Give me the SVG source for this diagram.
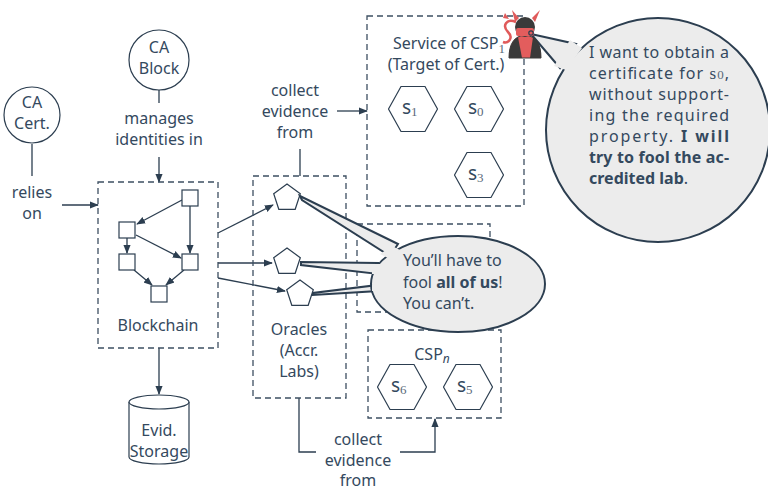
<svg xmlns="http://www.w3.org/2000/svg" width="768" height="492" viewBox="0 0 768 492">
  <defs>
    <marker id="arr" viewBox="0 0 10 10" refX="9" refY="5" markerWidth="9" markerHeight="9" markerUnits="userSpaceOnUse" orient="auto">
      <path d="M0,1 L10,5 L0,9 Z" fill="#2c3e50"/>
    </marker>
    <polygon id="hex" points="-24.5,0 -12,-22.5 12,-22.5 24.5,0 12,22.5 -12,22.5"/>
    <polygon id="pent" points="0,-14 13.3,-4.3 8.2,11.3 -8.2,11.3 -13.3,-4.3"/>
    <rect id="blk" width="16" height="16"/>
  </defs>
  <style>
    text { font-family: "Noto Sans", "Open Sans", sans-serif; font-size: 16px; fill: #34495e; }
    .c { text-anchor: middle; }
    .b { font-weight: bold; }
    .s { font-size: 19px; }
    .m { font-family: "Liberation Serif", "DejaVu Serif", serif; font-size: 13px; fill: #5a6a7a; }
    .node { fill: #fff; stroke: #2c3e50; stroke-width: 1.2; }
    .dash { fill: none; stroke: #3d4f61; stroke-width: 1.3; stroke-dasharray: 6 4; }
    .line { fill: none; stroke: #2c3e50; stroke-width: 1.3; }
    .arr { fill: none; stroke: #2c3e50; stroke-width: 1.3; marker-end: url(#arr); }
    .shape { fill: #fff; stroke: #2c3e50; stroke-width: 1.2; }
    .bub { fill: #ececec; stroke: #2c3e50; stroke-width: 2; }
    .bubf { fill: #ececec; stroke: none; }
  </style>

  <!-- connectors -->
  <g id="connectors">
    <line class="line" x1="32" y1="144" x2="32" y2="176"/>
    <line class="arr" x1="62" y1="205" x2="98" y2="205"/>
    <line class="line" x1="159" y1="90" x2="159" y2="103"/>
    <line class="arr" x1="159" y1="157" x2="159" y2="182"/>
    <line class="arr" x1="159" y1="348" x2="159" y2="394"/>
    <line class="line" x1="300" y1="176" x2="300" y2="149"/>
    <line class="arr" x1="337" y1="111" x2="367" y2="111"/>
    <line class="arr" x1="218" y1="233" x2="273" y2="205"/>
    <line class="arr" x1="218" y1="263" x2="272" y2="263"/>
    <line class="arr" x1="218" y1="278" x2="285" y2="291"/>
    <polyline class="line" points="299,398 299,452 316,452"/>
    <polyline class="arr" points="400,452 435,452 435,419"/>
    <!-- blockchain internal edges -->
    <line class="arr" x1="182" y1="200" x2="137" y2="224"/>
    <line class="arr" x1="190" y1="206" x2="190" y2="253"/>
    <line class="arr" x1="127" y1="238" x2="127" y2="253"/>
    <line class="arr" x1="136" y1="235" x2="181" y2="258"/>
    <line class="arr" x1="134" y1="270" x2="152" y2="285"/>
    <line class="arr" x1="184" y1="270" x2="166" y2="285"/>
  </g>

  <!-- certification authorities -->
  <g id="ca-cert">
    <circle class="node" cx="32" cy="115" r="28"/>
    <text class="c" x="32" y="108">CA</text>
    <text class="c" x="32" y="129">Cert.</text>
  </g>
  <text class="c" x="32" y="198">relies</text>
  <text class="c" x="32" y="219">on</text>

  <g id="ca-block">
    <circle class="node" cx="159" cy="60" r="30"/>
    <text class="c" x="159" y="53">CA</text>
    <text class="c" x="159" y="74">Block</text>
  </g>
  <text class="c" x="159" y="124">manages</text>
  <text class="c" x="159" y="145">identities in</text>

  <!-- blockchain -->
  <g id="blockchain">
    <rect class="dash" x="98" y="182" width="120" height="166"/>
    <use href="#blk" class="shape" x="182" y="190"/>
    <use href="#blk" class="shape" x="119" y="222"/>
    <use href="#blk" class="shape" x="119" y="254"/>
    <use href="#blk" class="shape" x="182" y="254"/>
    <use href="#blk" class="shape" x="151" y="286"/>
    <text class="c" x="158" y="331">Blockchain</text>
  </g>

  <!-- evidence storage -->
  <g id="storage">
    <path class="shape" d="M129,402 L129,457 A30,7 0 0 0 189,457 L189,402"/>
    <ellipse class="shape" cx="159" cy="402" rx="30" ry="7"/>
    <text class="c" x="159" y="436">Evid.</text>
    <text class="c" x="159" y="457">Storage</text>
  </g>

  <!-- service of CSP 1 -->
  <g id="csp1">
    <rect class="dash" x="367" y="16" width="157" height="190"/>
    <text class="c" x="449" y="49">Service of CSP<tspan class="m" dy="4">1</tspan></text>
    <text class="c" x="446" y="70">(Target of Cert.)</text>
    <use href="#hex" class="shape" x="413" y="109"/>
    <text x="402" y="114"><tspan class="s">s</tspan><tspan class="m" dy="2">1</tspan></text>
    <use href="#hex" class="shape" x="479" y="109"/>
    <text x="468" y="114"><tspan class="s">s</tspan><tspan class="m" dy="2">0</tspan></text>
    <use href="#hex" class="shape" x="479" y="175"/>
    <text x="468" y="180"><tspan class="s">s</tspan><tspan class="m" dy="2">3</tspan></text>
  </g>
  <text class="c" x="295" y="96">collect</text>
  <text class="c" x="295" y="117">evidence</text>
  <text class="c" x="295" y="138">from</text>

  <!-- CSP 2 (partly hidden) -->
  <g id="csp2">
    <rect class="dash" x="357" y="224" width="133" height="88"/>
  </g>

  <!-- CSP n -->
  <g id="cspn">
    <rect class="dash" x="368" y="330" width="133" height="88"/>
    <text class="c" x="432" y="360">CSP<tspan font-style="italic" font-size="12" dy="3">n</tspan></text>
    <use href="#hex" class="shape" x="402" y="387"/>
    <text x="391" y="392"><tspan class="s">s</tspan><tspan class="m" dy="2">6</tspan></text>
    <use href="#hex" class="shape" x="468" y="387"/>
    <text x="457" y="392"><tspan class="s">s</tspan><tspan class="m" dy="2">5</tspan></text>
  </g>
  <text class="c" x="358" y="445">collect</text>
  <text class="c" x="358" y="466">evidence</text>
  <text class="c" x="358" y="486">from</text>

  <!-- oracles -->
  <g id="oracles">
    <rect class="dash" x="253" y="176" width="93" height="222"/>
    <use href="#pent" class="shape" x="287" y="198"/>
    <use href="#pent" class="shape" x="287" y="262"/>
    <use href="#pent" class="shape" x="300" y="294"/>
    <text class="c" x="299" y="335">Oracles</text>
    <text class="c" x="299" y="356">(Accr.</text>
    <text class="c" x="299" y="377">Labs)</text>
  </g>

  <!-- oracles' speech bubble -->
  <g id="oracle-bubble">
    <polygon class="bub" stroke-width="1.3" points="300,196 302,200 390,256 398,244"/>
    <polygon class="bub" stroke-width="1.3" points="301,262 301,265 378,274 378,263"/>
    <polygon class="bub" stroke-width="1.3" points="313,293 313,295 378,291 378,285"/>
    <ellipse class="bub" cx="458" cy="284" rx="87" ry="48"/>
    <polygon class="bubf" points="380,254 392,246 400,250 388,258"/>
    <polygon class="bubf" points="372,264 372,274 384,274 384,264"/>
    <polygon class="bubf" points="372,285 372,291 384,291 384,285"/>
    <text x="403" y="266">You’ll have to</text>
    <text x="403" y="288">fool <tspan class="b">all of us</tspan>!</text>
    <text x="403" y="309">You can’t.</text>
  </g>

  <!-- attacker and speech bubble -->
  <g id="attacker-bubble">
    <polygon class="bub" stroke-width="1.6" points="531,34 576,44 560,68"/>
    <circle class="bub" cx="658" cy="130" r="112"/>
    <polygon class="bubf" points="570,40 582,48 566,70 554,66"/>
    <text x="589" y="58" textLength="140" lengthAdjust="spacing">I want to obtain a</text>
    <text x="589" y="79" textLength="140" lengthAdjust="spacing">certificate for <tspan font-family="Liberation Serif, serif" font-size="17">s</tspan><tspan class="m" font-size="14">0</tspan>,</text>
    <text x="589" y="100" textLength="140" lengthAdjust="spacing">without support-</text>
    <text x="589" y="121" textLength="140" lengthAdjust="spacing">ing the required</text>
    <text x="589" y="142" textLength="140" lengthAdjust="spacing">property.  <tspan class="b">I will</tspan></text>
    <text class="b" x="589" y="163" textLength="140" lengthAdjust="spacing">try to fool the ac-</text>
    <text x="589" y="184"><tspan class="b">credited lab</tspan>.</text>
  </g>

  <g id="attacker">
    <path d="M516,22 C506,18 502,26 508,32 C514,38 508,44 503,42" fill="none" stroke="#e05a5a" stroke-width="2.5"/>
    <path d="M503,18 L505,13 L509,19 Z" fill="#e05a5a"/>
    <path d="M515,22 L512,10 L519,18 Z" fill="#e05a5a"/>
    <path d="M535,22 L540,10 L532,18 Z" fill="#e05a5a"/>
    <path d="M509,58 C509,44 514,36 525,35 C536,36 541,44 541,58 Z" fill="#e35d5d" stroke="#3a3a3a" stroke-width="1"/>
    <path d="M509,58 C509,46 513,40 518,37 L522,58 Z" fill="#3a3a3a"/>
    <path d="M541,58 C541,46 538,40 533,37 L530,58 Z" fill="#3a3a3a"/>
    <circle cx="525" cy="27" r="10" fill="#3a3a3a"/>
    <rect x="516" y="28" width="18" height="8" rx="2" fill="#e35d5d"/>
    <circle cx="531" cy="33" r="2.2" fill="none" stroke="#2c3e50" stroke-width="1.2"/>
  </g>
</svg>
